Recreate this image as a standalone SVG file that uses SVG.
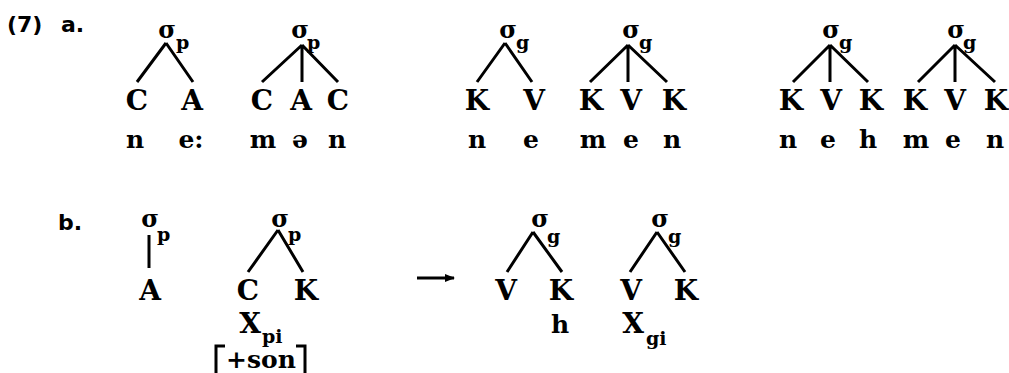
<svg xmlns="http://www.w3.org/2000/svg" width="1009" height="373" viewBox="0 0 1009 373">
<style>
.lab{font-family:"DejaVu Sans",sans-serif;font-weight:bold;font-size:22px;fill:#000}
.seg{font-family:"DejaVu Serif",serif;font-weight:bold;font-size:28px;fill:#000;text-anchor:middle}
.ph{font-family:"DejaVu Serif",serif;font-weight:bold;font-size:25px;fill:#000;text-anchor:middle}
.sig{font-family:"DejaVu Serif",serif;font-weight:bold;font-size:24px;fill:#000;text-anchor:middle}
.sub{font-family:"DejaVu Serif",serif;font-weight:bold;font-size:19px;fill:#000}
.ln{stroke:#000;stroke-width:3;fill:none;stroke-linecap:butt}
</style>
<defs>
<marker id="ah" markerWidth="10" markerHeight="8" refX="9" refY="4" orient="auto" markerUnits="userSpaceOnUse">
<path d="M0,0 L10,4 L0,8 Z" fill="#000"/>
</marker>
</defs>
<rect width="1009" height="373" fill="#fff"/>
<g id="labels">
<text class="lab" x="7" y="32">(7)</text>
<text class="lab" x="61" y="32">a.</text>
<text class="lab" x="58" y="230">b.</text>
</g>
<g id="connectors">
<path class="ln" d="M166,43 L137,82 M166,43 L193,82"/>
<path class="ln" d="M302,45 L262,82 M302,45 L302,82 M302,45 L338,82"/>
<path class="ln" d="M505,43 L477,82 M505,43 L532,82"/>
<path class="ln" d="M628,45 L590,82 M628,45 L628,82 M628,45 L667,82"/>
<path class="ln" d="M830,45 L793,82 M830,45 L830,82 M830,45 L868,82"/>
<path class="ln" d="M955,45 L918,82 M955,45 L955,82 M955,45 L995,82"/>
<path class="ln" d="M149,235 L149,268"/>
<path class="ln" d="M278,230 L248,272 M278,230 L303,272"/>
<path class="ln" d="M533,232 L507,272 M533,232 L562,272"/>
<path class="ln" d="M657,232 L630,272 M657,232 L685,272"/>
<path class="ln" d="M417,278 L454,278" stroke-width="2.5" marker-end="url(#ah)"/>
</g>
<g id="tree-a1">
<text class="sig" x="167" y="38">σ</text><text class="sub" x="176" y="49">p</text>
<text class="seg" x="137" y="110">C</text><text class="seg" x="192" y="110">A</text>
<text class="ph" x="135" y="148">n</text><text class="ph" x="191" y="148">e:</text>
</g>
<g id="tree-a2">
<text class="sig" x="300" y="38">σ</text><text class="sub" x="307" y="49">p</text>
<text class="seg" x="262" y="110">C</text><text class="seg" x="301" y="110">A</text><text class="seg" x="338" y="110">C</text>
<text class="ph" x="263" y="148">m</text><text class="ph" x="300" y="148">ə</text><text class="ph" x="337" y="148">n</text>
</g>
<g id="tree-a3">
<text class="sig" x="508" y="38">σ</text><text class="sub" x="516" y="49">g</text>
<text class="seg" x="477" y="110">K</text><text class="seg" x="534" y="110">V</text>
<text class="ph" x="477" y="148">n</text><text class="ph" x="531" y="148">e</text>
</g>
<g id="tree-a4">
<text class="sig" x="631" y="38">σ</text><text class="sub" x="639" y="49">g</text>
<text class="seg" x="591" y="110">K</text><text class="seg" x="631" y="110">V</text><text class="seg" x="674" y="110">K</text>
<text class="ph" x="593" y="148">m</text><text class="ph" x="631" y="148">e</text><text class="ph" x="672" y="148">n</text>
</g>
<g id="tree-a5">
<text class="sig" x="831" y="38">σ</text><text class="sub" x="839" y="49">g</text>
<text class="seg" x="791" y="110">K</text><text class="seg" x="831" y="110">V</text><text class="seg" x="871" y="110">K</text>
<text class="ph" x="788" y="148">n</text><text class="ph" x="828" y="148">e</text><text class="ph" x="868" y="148">h</text>
</g>
<g id="tree-a6">
<text class="sig" x="956" y="38">σ</text><text class="sub" x="963" y="49">g</text>
<text class="seg" x="915" y="110">K</text><text class="seg" x="955" y="110">V</text><text class="seg" x="996" y="110">K</text>
<text class="ph" x="916" y="148">m</text><text class="ph" x="953" y="148">e</text><text class="ph" x="995" y="148">n</text>
</g>
<g id="tree-b1">
<text class="sig" x="150" y="227">σ</text><text class="sub" x="157" y="241">p</text>
<text class="seg" x="150" y="300">A</text>
</g>
<g id="tree-b2">
<text class="sig" x="280" y="227">σ</text><text class="sub" x="288" y="241">p</text>
<text class="seg" x="248" y="300">C</text><text class="seg" x="306" y="300">K</text>
<text class="seg" x="250" y="333">X</text><text class="sub" x="262" y="343">pi</text>
<path class="ln" d="M216,373 L216,346 L225,346 M296,346 L305,346 L305,373"/>
<text class="ph" x="261" y="368">+son</text>
</g>
<g id="tree-b3">
<text class="sig" x="540" y="227">σ</text><text class="sub" x="547" y="243">g</text>
<text class="seg" x="506" y="300">V</text><text class="seg" x="561" y="300">K</text>
<text class="ph" x="560" y="333">h</text>
</g>
<g id="tree-b4">
<text class="sig" x="660" y="227">σ</text><text class="sub" x="668" y="243">g</text>
<text class="seg" x="631" y="300">V</text><text class="seg" x="686" y="300">K</text>
<text class="seg" x="633" y="333">X</text><text class="sub" x="646" y="345">gi</text>
</g>
</svg>
